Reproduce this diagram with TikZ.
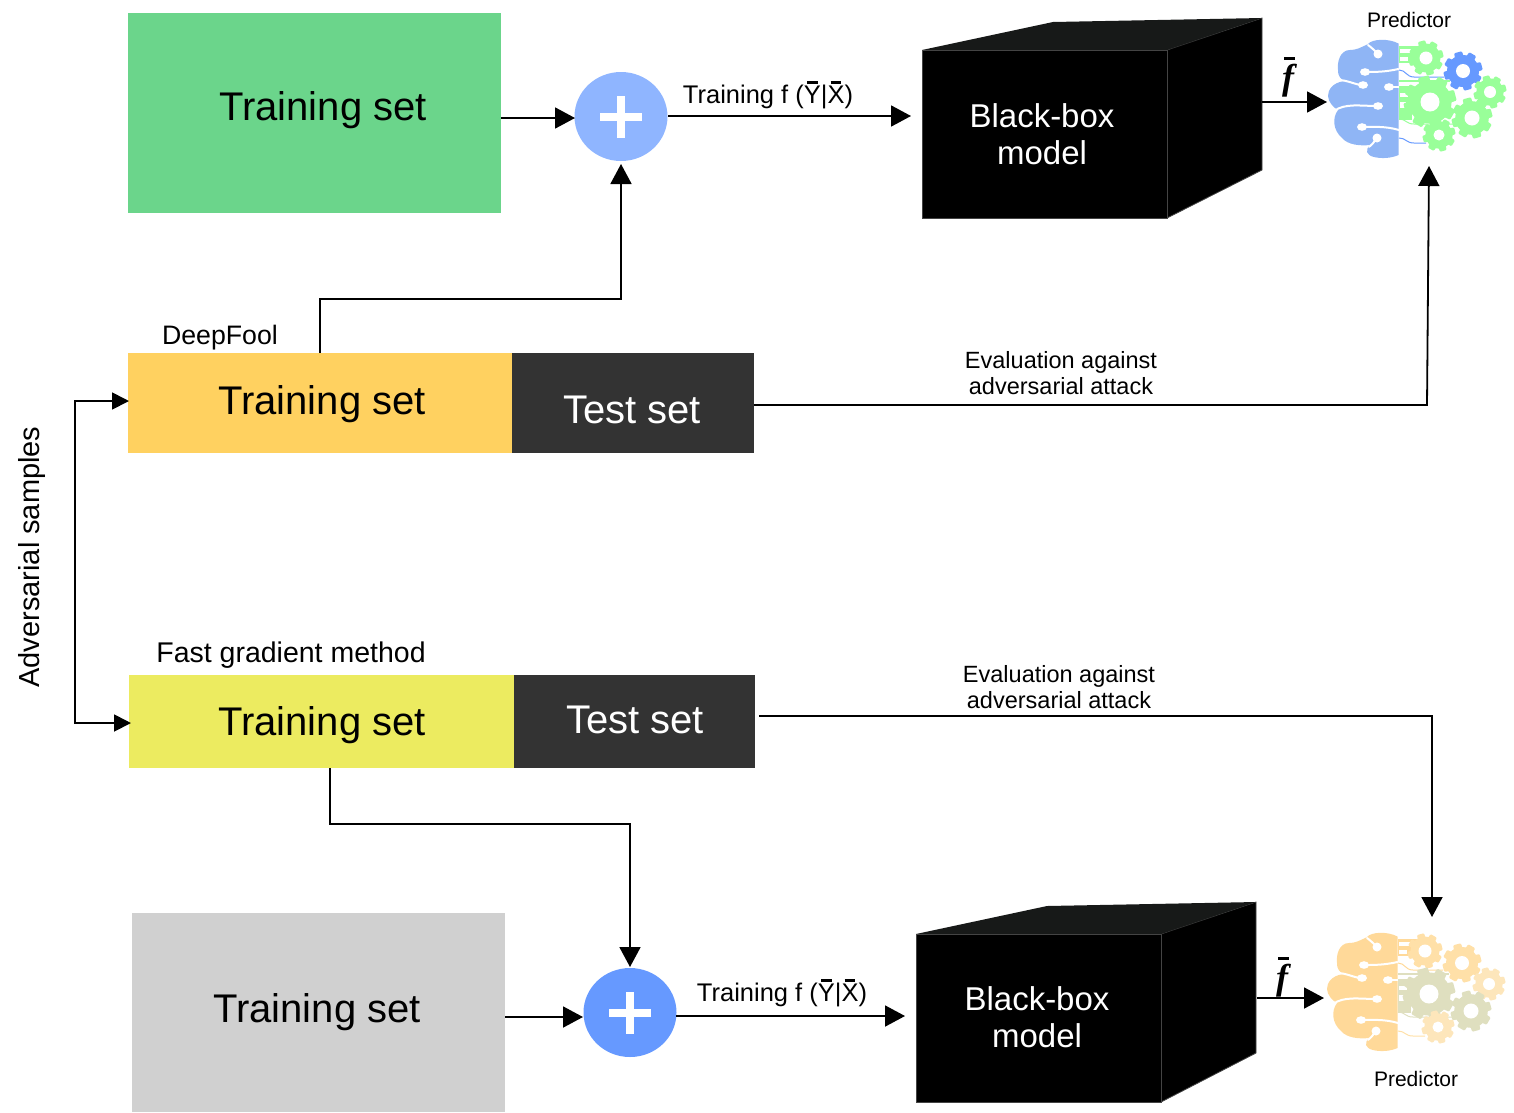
\documentclass[tikz,border=0pt]{standalone}
\usepackage{fontspec}
\setmainfont{Liberation Sans}
\usetikzlibrary{arrows.meta,positioning}
\definecolor{cgreen}{HTML}{6BD58B}
\definecolor{cblueA}{HTML}{8FB5FF}
\definecolor{cblueB}{HTML}{6699FF}
\definecolor{corange}{HTML}{FFD160}
\definecolor{cdark}{HTML}{333333}
\definecolor{cyellow}{HTML}{ECEB60}
\definecolor{cgrey}{HTML}{D0D0D0}
\definecolor{ctop}{HTML}{171918}
\definecolor{cedge}{HTML}{444444}
\definecolor{gG}{HTML}{99FF99}
\definecolor{gB}{HTML}{6699FF}
\definecolor{bB}{HTML}{8FB5F5}
\definecolor{yA}{HTML}{FFD999}
\definecolor{yB}{HTML}{FFE0A8}
\definecolor{yC}{HTML}{FDE6BB}
\definecolor{oL}{HTML}{DFDFBF}
\newcommand{\barred}[1]{\leavevmode\vbox{\offinterlineskip\halign{\hfil##\hfil\cr\rule{0.42em}{0.09em}\cr\noalign{\vskip 0.09em}#1\cr}}}
\newcommand{\fbar}{{\fontspec{Liberation Serif}\bfseries\itshape\fontsize{36}{36}\selectfont\vbox{\offinterlineskip\halign{\hfil##\hfil\cr\hskip 0.08em\rule{0.3em}{0.07em}\cr\noalign{\vskip 0.12em}f\cr}}}}
% gear: x, y, outer radius, hole radius, colour (all in pt)
\newcommand{\gear}[5]{%
  \fill[#5] (#1,#2) circle[radius=0.8*#3];
  \foreach \a in {0,45,...,315}{%
    \fill[#5,rotate around={\a+15:(#1,#2)},rounded corners=1pt] ({#1-0.28*#3},#2) -- ({#1-0.2*#3},{#2-0.97*#3}) -- ({#1+0.2*#3},{#2-0.97*#3}) -- ({#1+0.28*#3},#2) -- cycle;
  }%
  \fill[white] (#1,#2) circle[radius=#4];
}
% brain in local px coordinates of a crop
\newcommand{\brain}[3]{% x0 y0 colour
 \begin{scope}[shift={(#1,#2)}]
  \fill[#3] (138.5,43.5) .. controls (128,38) and (112,39) .. (108,44)
     .. controls (100,48) and (96,50) .. (90,50)
     .. controls (80,50) and (77,62) .. (78,70)
     .. controls (78,78) and (82,79) .. (84,81)
     .. controls (72,83) and (68,90) .. (68,96)
     .. controls (68,102) and (74,108) .. (78,110)
     .. controls (72,118) and (73,130) .. (82,138)
     .. controls (88,145) and (100,146) .. (110,145)
     .. controls (105,150) and (106,155) .. (114,157)
     .. controls (122,159) and (132,158) .. (138.5,155) -- cycle;
  \begin{scope}[line width=2pt,line cap=round]
   \draw[white] (108,45) .. controls (112,48) and (114,50) .. (117,53);
   \fill[white] (118,54) circle[radius=4.5];
   \draw[white] (138.5,69) .. controls (125,72) and (115,72) .. (106,72);
   \fill[white] (105,72) ellipse[x radius=5,y radius=3.8];
   \draw[white] (78,80) .. controls (88,80) and (95,85) .. (103,85);
   \fill[white] (103,85) ellipse[x radius=5,y radius=3.8];
   \draw[white] (139,87) -- (129,87);
   \fill[white] (129,87) ellipse[x radius=5,y radius=3.8];
   \draw[white] (74,111) .. controls (85,103) and (100,106) .. (118,106);
   \fill[white] (118,106) ellipse[x radius=5,y radius=3.8];
   \draw[white] (139,130) .. controls (125,126) and (115,127) .. (102,127);
   \fill[white] (102,127) ellipse[x radius=5,y radius=3.8];
   \draw[white] (109,147) .. controls (112,145) and (114,142) .. (116,139);
   \fill[white] (117,138) circle[radius=4.5];
  \end{scope}
 \end{scope}
}
\newcommand{\circuit}[6]{% x0 y0 top-line top-band mid bottom-line
 \begin{scope}[shift={(#1,#2)}]
  \fill[#4] (139,46) rectangle (158,63);
  \fill[white] (140,49) rectangle (152,53);
  \fill[white] (140,57) rectangle (148,61);
  \draw[#3,line width=1pt] (139,70) .. controls (146,70) and (146,77) .. (154,77) -- (184,77);
  \fill[#5] (139,80) rectangle (190,82);
  \fill[#5] (139,86) rectangle (152,120);
  \fill[white] (140,93) rectangle (148,97);
  \fill[white] (140,102) rectangle (146,108);
  \draw[#5,line width=1pt] (139,119) .. controls (146,119) and (146,124) .. (154,124) -- (193,124);
  \draw[#6,line width=1pt] (139,138) .. controls (146,138) and (146,143) .. (154,143) -- (166,143);
 \end{scope}
}
\tikzset{
  x=1pt,y=-1pt,
  bigtext/.style={font=\fontsize{40}{46}\selectfont},
  boxtext/.style={font=\fontsize{33}{37}\selectfont,align=center},
  lbl/.style={font=\fontsize{25.5}{27}\selectfont,align=center,inner sep=0pt},
  predlbl/.style={font=\fontsize{21}{22}\selectfont,inner sep=0pt},
  evallbl/.style={font=\fontsize{23.5}{26.5}\selectfont,align=center,inner sep=0pt},
  conn/.style={line width=1.8pt,-{Triangle[length=20pt,width=21pt]}},
  topface/.style={fill=ctop},
  sideface/.style={fill=black,draw=cedge,line width=0.8pt},
}
\begin{document}
\begin{tikzpicture}
\useasboundingbox (0,0) rectangle (1514,1112);
% boxes
\fill[cgreen] (128,13) rectangle (501,213);
\node[bigtext] (a1) at (323,110) {Training set};
\coordinate (a1e) at (501,118);
\fill[corange] (128,353) rectangle (512,453);
\fill[cdark] (512,353) rectangle (754,453);
\node[bigtext] (b1) at (322,404) {Training set};
\node[bigtext,white] (b2) at (632,410) {Test set};
\coordinate (b1n) at (320,353); \coordinate (b1w) at (129,401);
\coordinate (b2e) at (754,405);
\fill[cyellow] (129,675) rectangle (514,768);
\fill[cdark] (514,675) rectangle (755,768);
\node[bigtext] (c1) at (322,725) {Training set};
\node[bigtext,white] (c2) at (635,720) {Test set};
\coordinate (c1s) at (330,768); \coordinate (c1w) at (131,723);
\coordinate (c2e) at (759,716);
\fill[cgrey] (132,913) rectangle (505,1112);
\node[bigtext] (d1) at (317,1012) {Training set};
\coordinate (d1e) at (505,1017);
% plus circles
\fill[cblueA] (621,116.5) ellipse[x radius=46.5,y radius=44.5];
\fill[white] (617,96) rectangle (625,138);
\fill[white] (600,113) rectangle (642,121);
\coordinate (p1e) at (668,116); \coordinate (p1w) at (575,118); \coordinate (p1s) at (621,164);
\fill[cblueB] (630,1012.5) ellipse[x radius=46.5,y radius=44.5];
\fill[white] (626,992) rectangle (634,1034);
\fill[white] (609,1009) rectangle (651,1017);
\coordinate (p2e) at (676,1016); \coordinate (p2w) at (583,1017); \coordinate (p2n) at (630,967);
% cubes
\path[sideface] (1167,50) -- (1262,18) -- (1262,170) -- (1167,218) -- cycle;
\path[topface] (922,50) -- (1053,22) -- (1262,18) -- (1167,50) -- cycle;
\path[sideface] (922,50) rectangle (1167,218);
\node[boxtext,white] (m1) at (1042,134) {Black-box\\model};
\coordinate (m1w) at (911,116); \coordinate (m1e) at (1262,102);
\path[sideface] (1161,934) -- (1256,902) -- (1256,1053) -- (1161,1102) -- cycle;
\path[topface] (916,934) -- (1047,906) -- (1256,902) -- (1161,934) -- cycle;
\path[sideface] (916,934) rectangle (1161,1102);
\node[boxtext,white] (m2) at (1037,1017) {Black-box\\model};
\coordinate (m2w) at (905,1016); \coordinate (m2e) at (1257,998);
% predictors
\brain{1260}{0}{bB}
\circuit{1260}{0}{gB}{gG}{gG}{gB}
\gear{1426}{58}{18}{6.5}{gG}
\gear{1463}{71}{20}{7}{gB}
\gear{1490}{92}{17}{6}{gG}
\gear{1430}{102}{27}{9.5}{gG}
\gear{1472}{118}{21}{7.5}{gG}
\gear{1439}{135}{17}{5.5}{gG}
\brain{1259}{893}{yA}
\circuit{1259}{893}{yA}{yA}{oL}{yB}
\gear{1425}{951}{18}{6.5}{yB}
\gear{1462}{963}{20}{7}{yB}
\gear{1489}{984}{17}{6}{yC}
\gear{1429}{994}{27}{9.5}{oL}
\gear{1471}{1011}{21}{7.5}{oL}
\gear{1438}{1027}{17}{5.5}{yC}
\coordinate (r1w) at (1327,102); \coordinate (r1s) at (1429,166);
\coordinate (r2w) at (1324,998); \coordinate (r2n) at (1432,917);
% labels
\node[lbl] (t1) at (768,95) {Training f (\barred{Y}|\barred{X})};
\node[lbl] (t2) at (782,993) {Training f (\barred{Y}|\barred{X})};
\node[inner sep=0pt] (f1) at (1288,77) {\fbar};
\node[inner sep=0pt] (f2) at (1282,977) {\fbar};
\node[predlbl] (q1) at (1409,20) {Predictor};
\node[predlbl] (q2) at (1416,1079) {Predictor};
\node[font=\fontsize{26.7}{28}\selectfont,inner sep=0pt] (df) at (220,338) {DeepFool};
\node[font=\fontsize{28.5}{30}\selectfont,inner sep=0pt] (fg) at (291,655) {Fast gradient method};
\node[evallbl] (e1) at (1061,373) {Evaluation against\\adversarial attack};
\node[evallbl] (e2) at (1059,687) {Evaluation against\\adversarial attack};
\node[font=\fontsize{29}{32}\selectfont,rotate=90,inner sep=0pt] (ad) at (32,557) {Adversarial samples};
% connectors
\draw[conn] (a1e) -- (p1w);
\draw[conn] (p1e) -- (m1w);
\draw[conn] (m1e) -- (r1w);
\draw[conn] (b1n) -- (320,299) -- (621,299) -- (p1s);
\draw[conn] (b2e) -- (1427,405) -- (r1s);
\draw[conn] (c2e) -- (1432,716) -- (r2n);
\draw[conn] (c1s) -- (330,824) -- (630,824) -- (p2n);
\draw[conn] (d1e) -- (p2w);
\draw[conn] (p2e) -- (m2w);
\draw[conn] (m2e) -- (r2w);
\draw[line width=1.8pt,{Triangle[length=17pt,width=17pt]}-{Triangle[length=17pt,width=17pt]}] (b1w) -- (75,401) -- (75,723) -- (c1w);
\end{tikzpicture}
\end{document}
